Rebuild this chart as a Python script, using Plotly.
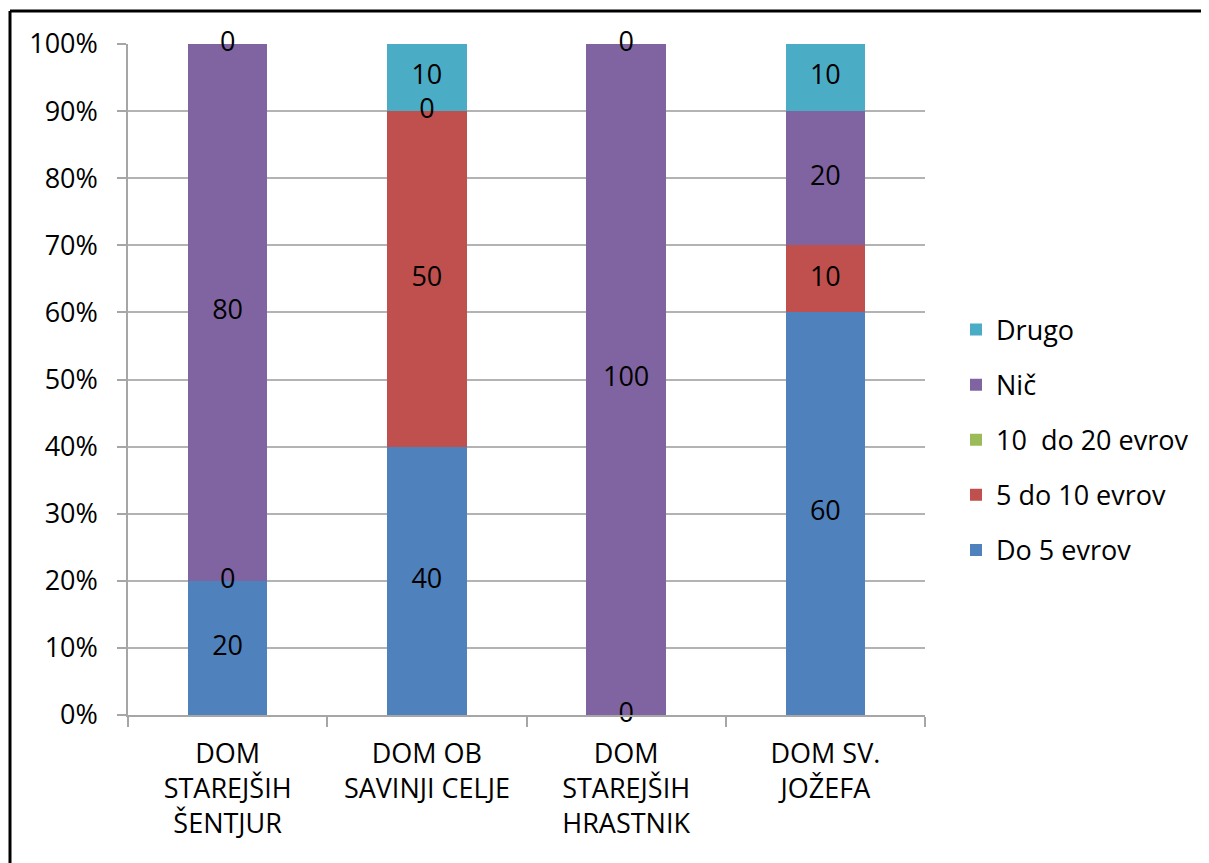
import plotly.graph_objects as go

categories = ["DOM<br>STAREJŠIH<br>ŠENTJUR", "DOM OB<br>SAVINJI CELJE",
              "DOM<br>STAREJŠIH<br>HRASTNIK", "DOM SV.<br>JOŽEFA"]
series_names = ["Do 5 evrov", "5 do 10 evrov", "10  do 20 evrov", "Nič", "Drugo"]
do5 = [20, 40, 0, 60]
od5do10 = [0, 50, None, 10]
od10do20 = [None, None, None, None]
nic = [80, 0, 100, 20]
drugo = [0, 10, 0, 10]
colors = ["#4F81BD", "#C0504D", "#9BBB59", "#8064A2", "#4BACC6"]
yticks = [0, 10, 20, 30, 40, 50, 60, 70, 80, 90, 100]

series = [do5, od5do10, od10do20, nic, drugo]
FONT = "Open Sans"
FS = 27

fig = go.Figure()
n = len(series_names)
for i, (name, vals) in enumerate(zip(series_names, series)):
    fig.add_trace(go.Bar(
        x=categories, y=[v if v is not None else 0 for v in vals], name=name,
        marker=dict(color=colors[i], line=dict(width=0)),
        legendgroup=name, legendrank=n - i, hoverinfo="skip",
    ))

# data labels at the middle of each segment (percent of category total)
totals = [sum((s[j] or 0) for s in series) for j in range(len(categories))]
base = [0.0] * len(categories)
for vals in series:
    xs, ys, ts = [], [], []
    for j, v in enumerate(vals):
        if v is not None:
            pct = 100.0 * v / totals[j]
            xs.append(categories[j])
            ys.append(base[j] + pct / 2)
            ts.append(str(v))
            base[j] += pct
    if xs:
        fig.add_trace(go.Scatter(
            x=xs, y=ys, text=ts, mode="text", showlegend=False,
            textfont=dict(family=FONT, size=FS, color="black"),
            textposition="middle center", hoverinfo="skip", cliponaxis=False,
        ))

OFF = 8  # page body margin
W, H = 1209, 863
L, T = 128 - OFF, 44 - OFF
R = W - (925 - OFF)
B = H - (715 - OFF)
pw, ph = W - L - R, H - T - B

fig.update_layout(
    width=W, height=H,
    margin=dict(l=L, r=R, t=T, b=B),
    barmode="stack", barnorm="percent", bargap=0.6,
    paper_bgcolor="white", plot_bgcolor="white",
    font=dict(family=FONT, size=FS, color="black"),
    legend=dict(
        x=(956 - OFF - L) / pw, xanchor="left", y=(715 - 440) / ph, yanchor="middle",
        traceorder="grouped", tracegroupgap=17,
        font=dict(family=FONT, size=FS, color="black"),
        itemwidth=30,
    ),
    xaxis=dict(
        showgrid=False, showline=True, linecolor="#A6A6A6", linewidth=1.5,
        ticks="outside", tickson="boundaries", ticklen=10, tickcolor="#A6A6A6",
        tickwidth=1.5, tickfont=dict(family=FONT, size=FS, color="black"),
        ticklabelstandoff=14,
    ),
    yaxis=dict(
        range=[0, 100], tickvals=yticks, ticktext=[f"{v}%" for v in yticks],
        showgrid=True, gridcolor="#B3B3B3", gridwidth=1.5,
        showline=True, linecolor="#A6A6A6", linewidth=1.5,
        ticks="outside", ticklen=9, tickcolor="#A6A6A6", tickwidth=1.5,
        tickfont=dict(family=FONT, size=FS, color="black"),
        ticklabelstandoff=14, zeroline=False,
    ),
)

# outer chart frame (top and left edges visible)
x0 = (10 - OFF - L) / pw
y1 = (715 - 11) / ph
fig.add_shape(type="line", xref="paper", yref="paper", x0=x0, x1=1.6, y0=y1, y1=y1,
              line=dict(color="black", width=3))
fig.add_shape(type="line", xref="paper", yref="paper", x0=x0, x1=x0, y0=-0.5, y1=y1,
              line=dict(color="black", width=3))

fig.write_html("out.html")
